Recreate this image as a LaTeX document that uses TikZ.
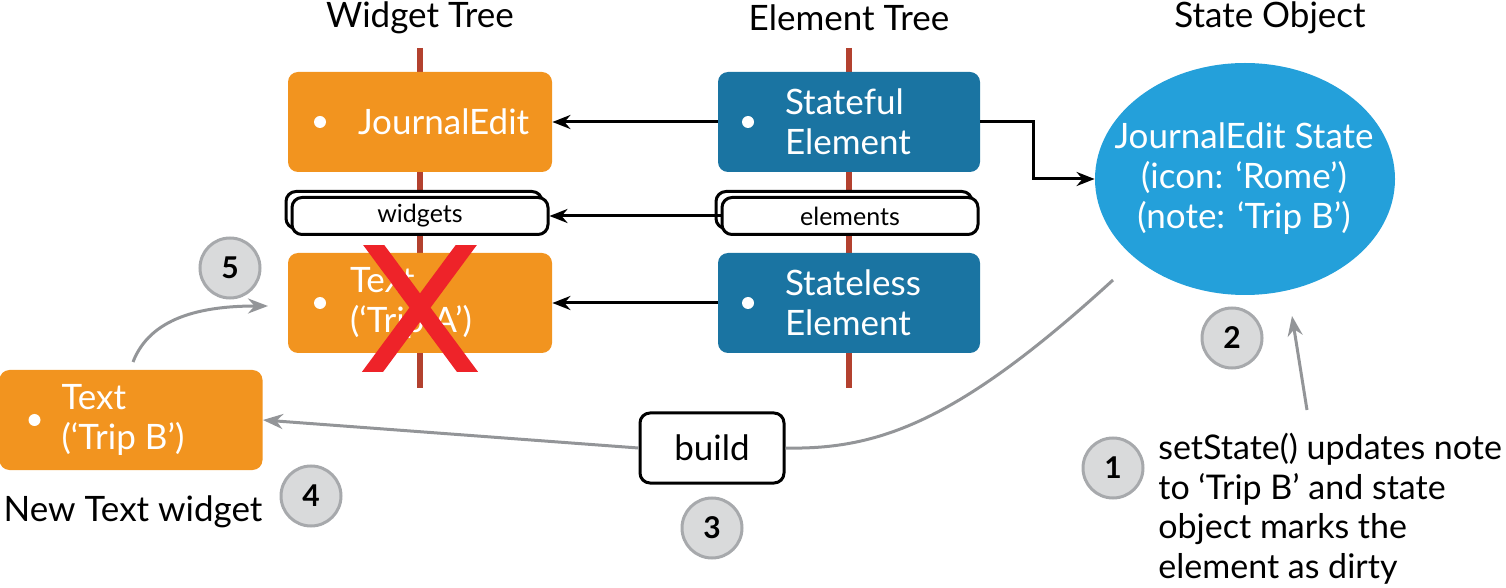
\documentclass[tikz,border=0pt]{standalone}
\usepackage{fontspec}
\setmainfont{Lato}
\usetikzlibrary{arrows.meta,positioning,shapes.geometric,shadows}

\definecolor{widgetorange}{HTML}{F2941F}
\definecolor{elementblue}{HTML}{1A74A2}
\definecolor{stateblue}{HTML}{24A0DA}
\definecolor{treered}{HTML}{B3412F}
\definecolor{stepgray}{HTML}{D9DADB}
\definecolor{stepedge}{HTML}{A7A9AC}
\definecolor{flowgray}{HTML}{939598}
\definecolor{crossred}{HTML}{EE2329}

\begin{document}
\begin{tikzpicture}[
        x                       = 0.5pt,
        y                       = -0.5pt,
        title/.style            = {font=\fontsize{17.5}{20}\selectfont},
        widget/.style           = {fill=widgetorange, rounded corners=5pt, minimum width=132pt, minimum height=50pt},
        element/.style          = {fill=elementblue, rounded corners=5pt, minimum width=131pt, minimum height=50pt},
        boxtext/.style          = {text=white, inner sep=0pt, align=left, font=\fontsize{17.5}{20}\selectfont},
        dot/.style              = {circle, fill=white, inner sep=0pt, minimum size=6pt},
        listbox/.style          = {draw, fill=white, line width=1.5pt, rounded corners=5pt,
                                   minimum width=128pt, minimum height=18.5pt, font=\fontsize{12.5}{14}\selectfont,
                                   copy shadow={shadow xshift=-3pt, shadow yshift=3pt, draw, fill=white, line width=1.5pt}},
        stepnum/.style          = {circle, fill=stepgray, draw=stepedge, line width=1.5pt, minimum size=30pt,
                                   inner sep=0pt, font=\fontsize{15}{15}\selectfont\bfseries},
        conn/.style             = {draw, line width=1.5pt, -{Stealth[length=9pt,width=7pt]}},
        flow/.style             = {draw=flowgray, line width=1.5pt, -{Stealth[length=10pt,width=7.5pt]}},
        treeline/.style         = {draw=treered, line width=3pt},
      ]
        \useasboundingbox (0,0) rectangle (1506,588);

        % trees
        \draw[treeline] (420,48) -- (420,388);
        \draw[treeline] (849,48) -- (849,388);

        \node[title] (widgettitle) at (420,18) {Widget Tree};
        \node[title] (elementtitle) at (849,18) {Element Tree};
        \node[title] (statetitle) at (1270,18) {State Object};

        % widget tree
        \node[widget] (jedit) at (420,122) {};
        \node[dot, right=13pt of jedit.west] (jeditdot) {};
        \node[boxtext, right=35pt of jedit.west] (jeditlabel) {JournalEdit};

        \node[listbox] (widgets) at (420,216) {widgets};

        \node[widget] (texta) at (420,303) {};
        \node[dot, right=13pt of texta.west] (textadot) {};
        \node[boxtext, right=31pt of texta.west] (textalabel) {Text\\(`Trip A')};

        % element tree
        \node[element] (stateful) at (849,122) {};
        \node[dot, right=12pt of stateful.west] (statefuldot) {};
        \node[boxtext, right=33.5pt of stateful.west] (statefullabel) {Stateful\\Element};

        \node[listbox] (elements) at (850,216) {elements};

        \node[element] (stateless) at (849,303) {};
        \node[dot, right=12pt of stateless.west] (statelessdot) {};
        \node[boxtext, right=33.5pt of stateless.west] (statelesslabel) {Stateless\\Element};

        % state object
        \node[ellipse, fill=stateblue, inner sep=0pt, minimum width=150pt, minimum height=116pt] (stateobj) at (1245,179) {};
        \node[boxtext, align=center] (statelabel) at (1244,179)
              {JournalEdit State\\(icon: `Rome')\\(note: `Trip B')};

        % new widget
        \node[widget, minimum width=131.5pt] (newtext) at (131,420) {};
        \node[dot, right=14.5pt of newtext.west] (newtextdot) {};
        \node[boxtext, right=31pt of newtext.west] (newtextlabel) {Text\\(`Trip B')};
        \node[title] (newtextcaption) at (133,512) {New Text widget};

        \node[draw, line width=1.5pt, rounded corners=5pt, minimum width=72pt, minimum height=35pt,
              font=\fontsize{17.5}{20}\selectfont] (build) at (712,448) {build};

        \node[anchor=north west, align=left, inner sep=0pt, font=\fontsize{17}{19.8}\selectfont] (note) at (1158,433)
              {setState() updates note\\to `Trip B' and state\\object marks the\\element as dirty};

        % steps
        \node[stepnum] (step1) at (1113,468) {1};
        \node[stepnum] (step2) at (1232,338) {2};
        \node[stepnum] (step3) at (712,528) {3};
        \node[stepnum] (step4) at (311,496) {4};
        \node[stepnum] (step5) at (230,268) {5};

        % connectors
        \draw[conn] (stateful.west) -- (jedit.east);
        \draw[conn] (elements.west) -- (widgets.east);
        \draw[conn] (stateless.west) -- (texta.east);
        \draw[conn] (stateful.east) -- ++(53,0) |- (stateobj.west);

        \coordinate (dirtystart) at (1113,280);
        \draw[flow, -] (dirtystart) .. controls (960,420) and (880,450) .. (build.east);
        \draw[flow] (build.west) -- (newtext.east);
        \coordinate (notetop) at (1307,410);
        \coordinate (statebottom) at (1292,316);
        \draw[flow] (notetop) -- (statebottom);
        \coordinate (newtop) at (133,362);
        \coordinate (oldleft) at (268,306);
        \draw[flow] (newtop) .. controls (150,318) and (200,306) .. (oldleft);

        % removed widget
        \begin{scope}
            \clip (360,246) rectangle (480,372);
            \draw[crossred, line width=8.5pt] (370,240) -- (472,378);
            \draw[crossred, line width=8.5pt] (470,240) -- (368,378);
        \end{scope}
    \end{tikzpicture}
\end{document}
